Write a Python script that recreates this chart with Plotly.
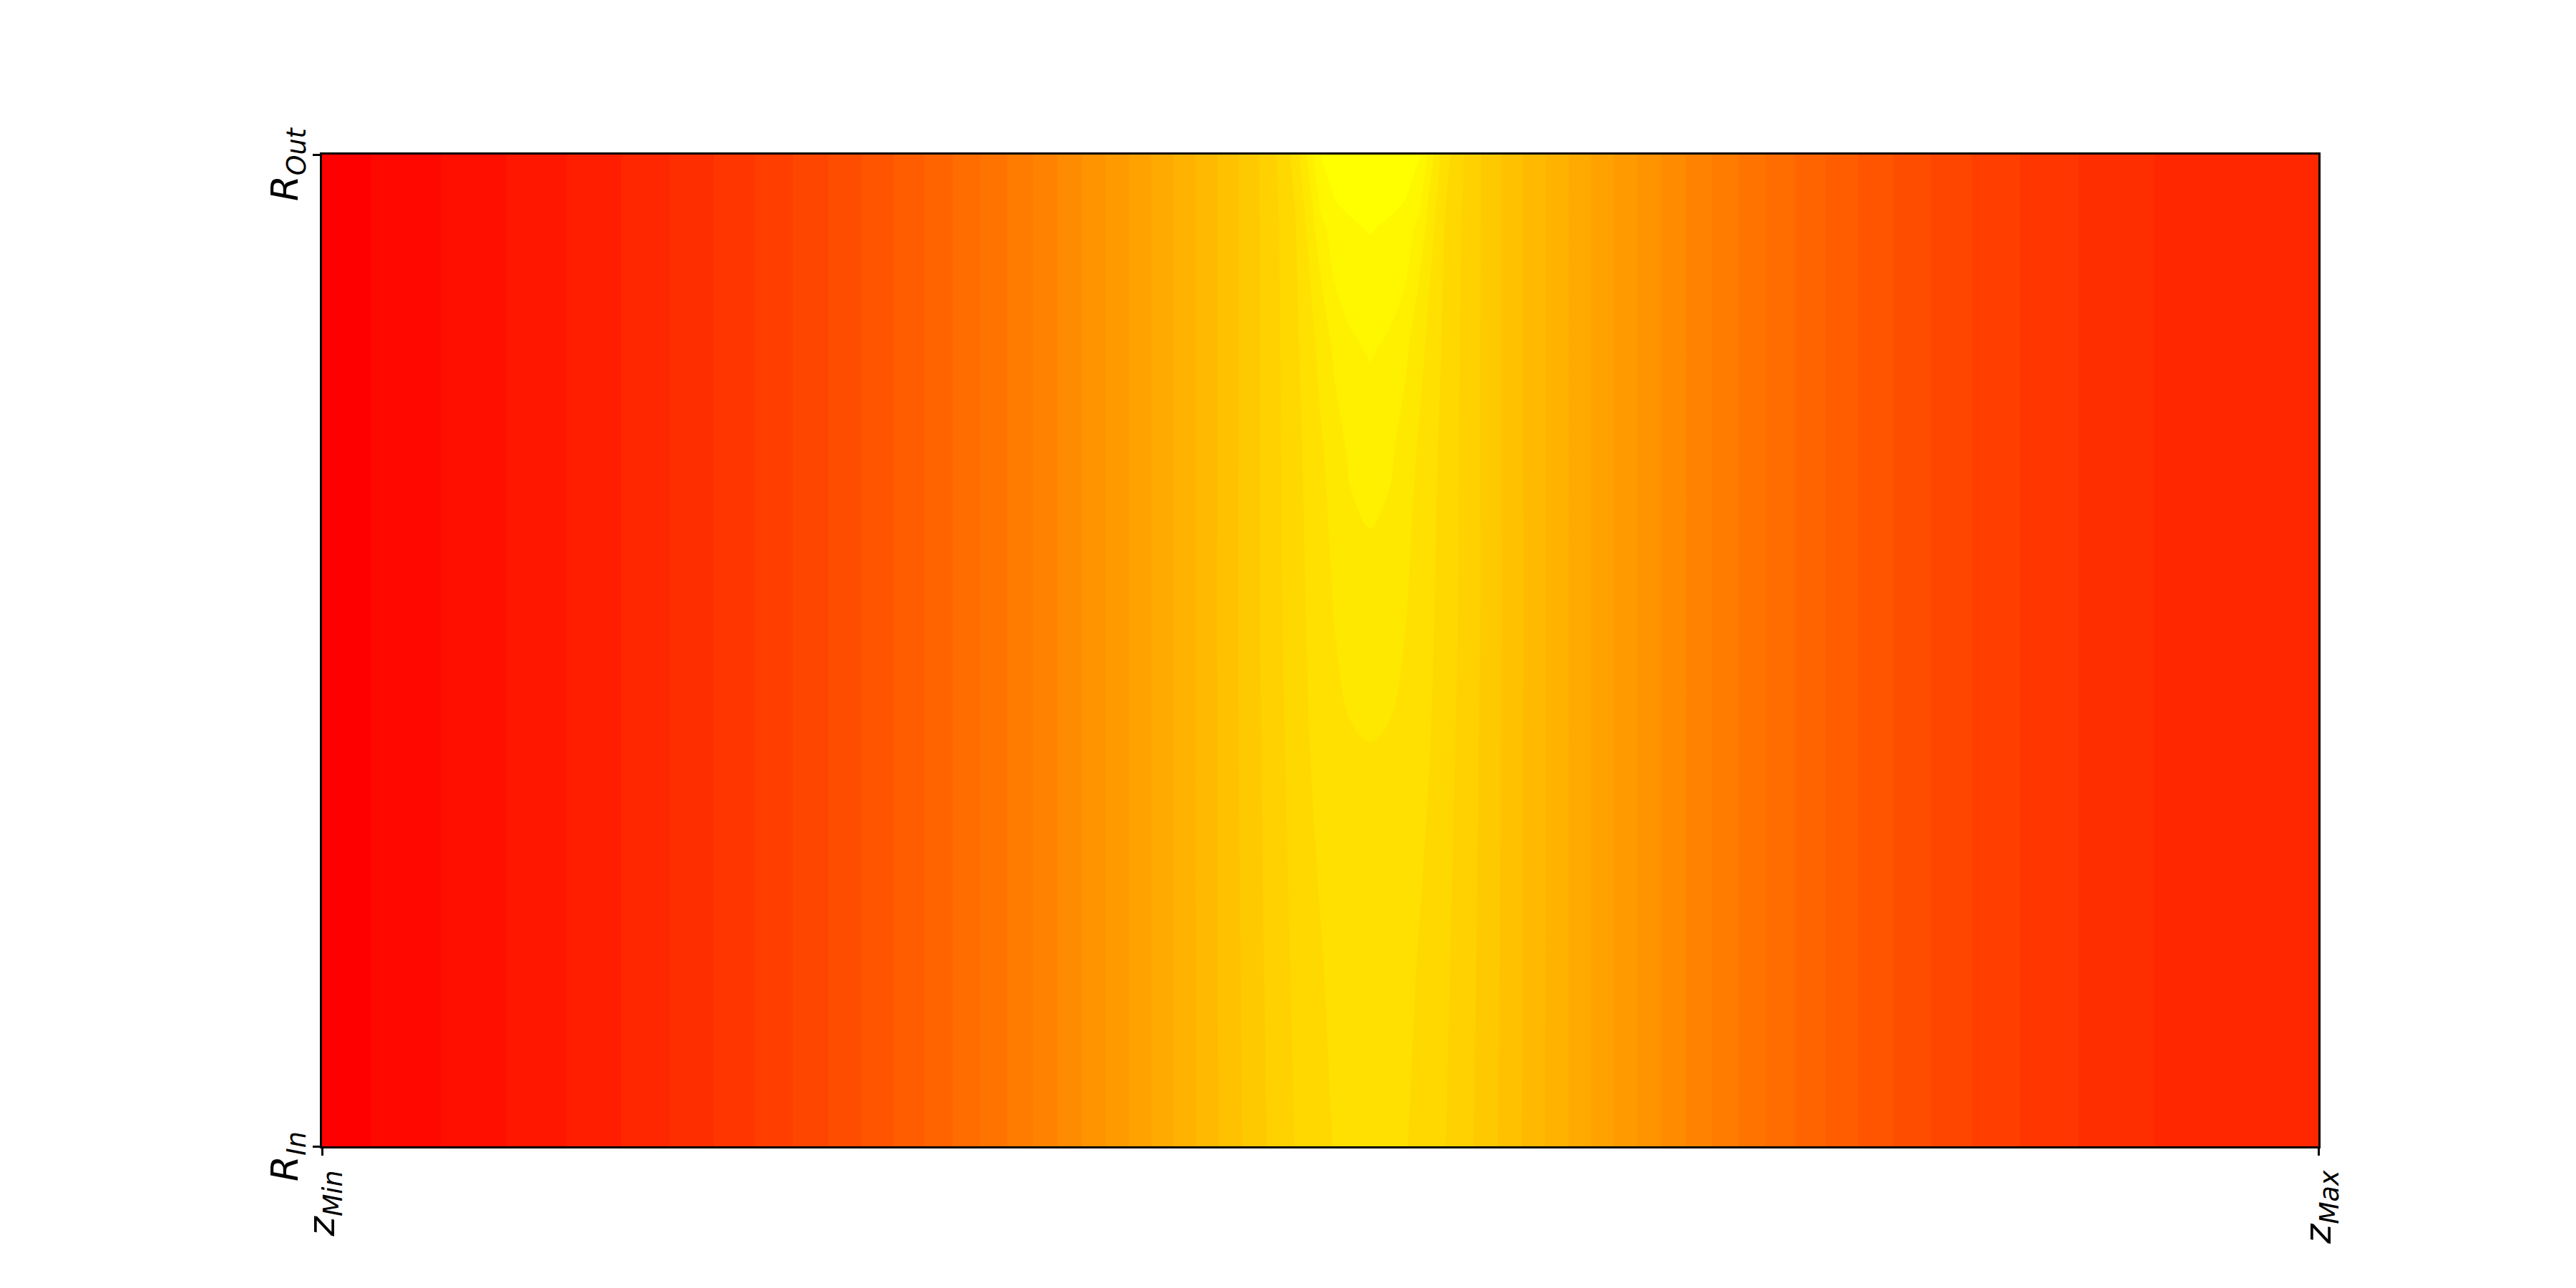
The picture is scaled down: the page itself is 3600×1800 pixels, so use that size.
import plotly.graph_objects as go

# ---- data (normalized axial position z, radial position r, field value) ----
# left flank (same for every radial row)
z_left = [0.0, 0.025, 0.05, 0.075, 0.1, 0.125, 0.15, 0.175, 0.2, 0.225, 0.25,
          0.275, 0.3, 0.325, 0.35, 0.375, 0.4, 0.425]
v_left = [0.010, 0.0305, 0.0516, 0.0738, 0.0973, 0.1226, 0.1502, 0.1811, 0.2152,
          0.2523, 0.2931, 0.3386, 0.3864, 0.4396, 0.4954, 0.5561, 0.6191, 0.6860]

# central hot region (varies with r)
z_center = [0.45, 0.4625, 0.475, 0.4875, 0.495, 0.5, 0.5075, 0.515, 0.525,
            0.535, 0.5425, 0.55, 0.555, 0.5625, 0.575, 0.5875, 0.6]
r_nodes = [0.0, 0.2, 0.4, 0.55, 0.7, 0.8, 0.875, 0.925, 0.96, 1.0]
v_center = [
    [0.7525, 0.7838, 0.8143, 0.8408, 0.8531, 0.8613, 0.8721, 0.8774, 0.8800, 0.8774, 0.8721, 0.8613, 0.8531, 0.8408, 0.8143, 0.7838, 0.7525],
    [0.7539, 0.7865, 0.8184, 0.8462, 0.8594, 0.8682, 0.8789, 0.8857, 0.8890, 0.8857, 0.8789, 0.8682, 0.8594, 0.8462, 0.8184, 0.7865, 0.7539],
    [0.7543, 0.7891, 0.8217, 0.8527, 0.8702, 0.8792, 0.8898, 0.8967, 0.8990, 0.8967, 0.8898, 0.8792, 0.8702, 0.8527, 0.8217, 0.7891, 0.7543],
    [0.7550, 0.7900, 0.8243, 0.8575, 0.8756, 0.8867, 0.9028, 0.9134, 0.9185, 0.9134, 0.9028, 0.8867, 0.8756, 0.8575, 0.8243, 0.7900, 0.7550],
    [0.7543, 0.7895, 0.8243, 0.8600, 0.8809, 0.8945, 0.9165, 0.9349, 0.9420, 0.9349, 0.9165, 0.8945, 0.8809, 0.8600, 0.8243, 0.7895, 0.7543],
    [0.7543, 0.7895, 0.8243, 0.8633, 0.8894, 0.9086, 0.9358, 0.9530, 0.9620, 0.9530, 0.9358, 0.9086, 0.8894, 0.8633, 0.8243, 0.7895, 0.7543],
    [0.7543, 0.7895, 0.8250, 0.8650, 0.9005, 0.9273, 0.9629, 0.9737, 0.9790, 0.9737, 0.9629, 0.9273, 0.9005, 0.8650, 0.8250, 0.7895, 0.7543],
    [0.7543, 0.7895, 0.8250, 0.8681, 0.9120, 0.9500, 0.9748, 0.9860, 0.9915, 0.9860, 0.9748, 0.9500, 0.9120, 0.8681, 0.8250, 0.7895, 0.7543],
    [0.7543, 0.7895, 0.8258, 0.8733, 0.9233, 0.9700, 0.9933, 0.9970, 0.9990, 0.9970, 0.9933, 0.9700, 0.9233, 0.8733, 0.8258, 0.7895, 0.7543],
    [0.7543, 0.7895, 0.8267, 0.8810, 0.9480, 0.9920, 1.0001, 1.0054, 1.0080, 1.0054, 1.0001, 0.9920, 0.9480, 0.8810, 0.8267, 0.7895, 0.7543],
]

# right flank (same for every radial row)
z_right = [0.625, 0.65, 0.675, 0.7, 0.725, 0.75, 0.775, 0.8, 0.825, 0.85, 0.875,
           0.9, 0.925, 0.95, 0.975, 1.0]
v_right = [0.6884, 0.6221, 0.5595, 0.5011, 0.4457, 0.3958, 0.3499, 0.3085, 0.2721,
           0.2406, 0.2141, 0.1932, 0.1749, 0.1665, 0.1600, 0.1550]

x_ticks = [0, 1]
x_labels = ["<i>z</i><sub><i>Min</i></sub>", "<i>z</i><sub><i>Max</i></sub>"]
y_ticks = [0, 1]
y_labels = ["<i>R</i><sub><i>In</i></sub>", "<i>R</i><sub><i>Out</i></sub>"]

# ---- build table ----
z_all = z_left + z_center + z_right
field = [v_left + row + v_right for row in v_center]

autumn = [[0.0, "rgb(255,0,0)"], [1.0, "rgb(255,255,0)"]]

fig = go.Figure(
    go.Contour(
        x=z_all,
        y=r_nodes,
        z=field,
        colorscale=autumn,
        autocontour=False,
        contours=dict(start=0.03, end=0.995, size=0.03, coloring="fill", showlines=False),
        line=dict(width=0, smoothing=1),
        showscale=False,
        hoverinfo="skip",
    )
)

axis_common = dict(
    range=[0, 1],
    showgrid=False,
    zeroline=False,
    showline=True,
    linecolor="black",
    linewidth=2.5,
    mirror=True,
    ticks="outside",
    ticklen=10,
    tickwidth=2.5,
    tickcolor="black",
    tickangle=-90,
    tickfont=dict(family="DejaVu Sans", size=52, color="black"),
)

fig.update_layout(
    width=3600,
    height=1800,
    margin=dict(l=450, r=360, t=216, b=198),
    paper_bgcolor="white",
    plot_bgcolor="white",
    xaxis=dict(tickmode="array", tickvals=x_ticks, ticktext=x_labels, **axis_common),
    yaxis=dict(tickmode="array", tickvals=y_ticks, ticktext=y_labels,
               ticklabelshift=22, **axis_common),
)

fig.write_html("out.html")
